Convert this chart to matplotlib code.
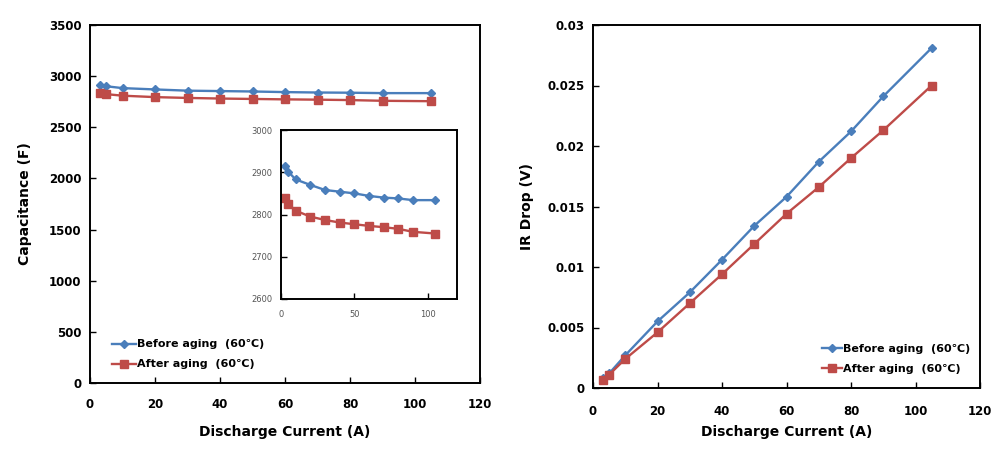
import matplotlib
matplotlib.use('Agg')
import matplotlib.pyplot as plt
from matplotlib.ticker import FuncFormatter

# discharge current (A)
current = [3, 5, 10, 20, 30, 40, 50, 60, 70, 80, 90, 105]

# capacitance (F)
cap_before = [2915, 2901, 2883, 2870, 2858, 2854, 2850, 2844, 2840, 2838, 2834, 2834]
cap_after = [2838, 2824, 2809, 2795, 2787, 2781, 2777, 2773, 2770, 2766, 2759, 2755]

# IR drop (V)
ir_before = [0.0008, 0.0012, 0.0027, 0.0055, 0.0079, 0.0106, 0.0134, 0.0158, 0.0187, 0.0212, 0.0241, 0.0281]
ir_after = [0.0007, 0.0011, 0.0024, 0.0046, 0.0070, 0.0094, 0.0119, 0.0144, 0.0166, 0.0190, 0.0213, 0.0250]

labels = ['Before aging  (60\u2103)', 'After aging  (60\u2103)']
BLUE = '#4a7ebb'
RED = '#be4b48'

plt.rcParams['font.family'] = ['DejaVu Sans']

W, H = 998, 454
fig = plt.figure(figsize=(W / 100, H / 100), dpi=100)


def box(l, t, r, b):
    return [l / W, 1 - b / H, (r - l) / W, (b - t) / H]


def style(ax, size=8.5, bold=True, color='black', xpad=10):
    for s in ax.spines.values():
        s.set_linewidth(1.4)
        s.set_color('black')
    ax.tick_params(direction='in', length=4, width=1, labelsize=size, colors='black',
                   labelcolor=color, pad=6)
    ax.tick_params(axis='x', pad=xpad)
    for t in ax.get_xticklabels() + ax.get_yticklabels():
        t.set_fontweight('bold' if bold else 'normal')


def draw(ax, yb, ya, with_label=True):
    ax.plot(current, yb, color=BLUE, lw=1.7, marker='D', ms=4,
            label=labels[0] if with_label else None)
    ax.plot(current, ya, color=RED, lw=1.7, marker='s', ms=6,
            label=labels[1] if with_label else None)


# left: capacitance
ax1 = fig.add_axes(box(90, 25, 480, 383))
draw(ax1, cap_before, cap_after)
ax1.set_xlim(0, 120)
ax1.set_ylim(0, 3500)
ax1.set_xticks(range(0, 121, 20))
ax1.set_yticks(range(0, 3501, 500))
style(ax1, xpad=11)
ax1.set_xlabel('Discharge Current (A)', fontsize=10, fontweight='bold', labelpad=10)
ax1.set_ylabel('Capacitance (F)', fontsize=10, fontweight='bold', labelpad=12)
ax1.legend(loc='lower left', bbox_to_anchor=(0.03, 0.01), frameon=False,
           handlelength=2.2, handletextpad=0.1, labelspacing=0.9,
           prop={'weight': 'bold', 'size': 8})

# inset
ax_in = fig.add_axes(box(281, 130, 457, 299))
draw(ax_in, cap_before, cap_after, with_label=False)
ax_in.set_xlim(0, 120)
ax_in.set_ylim(2600, 3000)
ax_in.set_xticks([0, 50, 100])
ax_in.set_yticks(range(2600, 3001, 100))
style(ax_in, size=6, bold=False, color='#555555', xpad=8)

# right: IR drop
ax2 = fig.add_axes(box(593, 25, 980, 388))
draw(ax2, ir_before, ir_after)
ax2.set_xlim(0, 120)
ax2.set_ylim(0, 0.03)
ax2.set_xticks(range(0, 121, 20))
ax2.set_yticks([0, 0.005, 0.01, 0.015, 0.02, 0.025, 0.03])
ax2.yaxis.set_major_formatter(FuncFormatter(lambda v, p: '0' if v == 0 else f'{v:g}'))
style(ax2, xpad=12)
ax2.set_xlabel('Discharge Current (A)', fontsize=10, fontweight='bold', labelpad=5)
ax2.set_ylabel('IR Drop (V)', fontsize=10, fontweight='bold', labelpad=10)
ax2.legend(loc='lower right', bbox_to_anchor=(1.0, 0.01), frameon=False,
           handlelength=1.8, handletextpad=0.1, labelspacing=0.9,
           prop={'weight': 'bold', 'size': 8})

fig.savefig('out.png', dpi=100)
